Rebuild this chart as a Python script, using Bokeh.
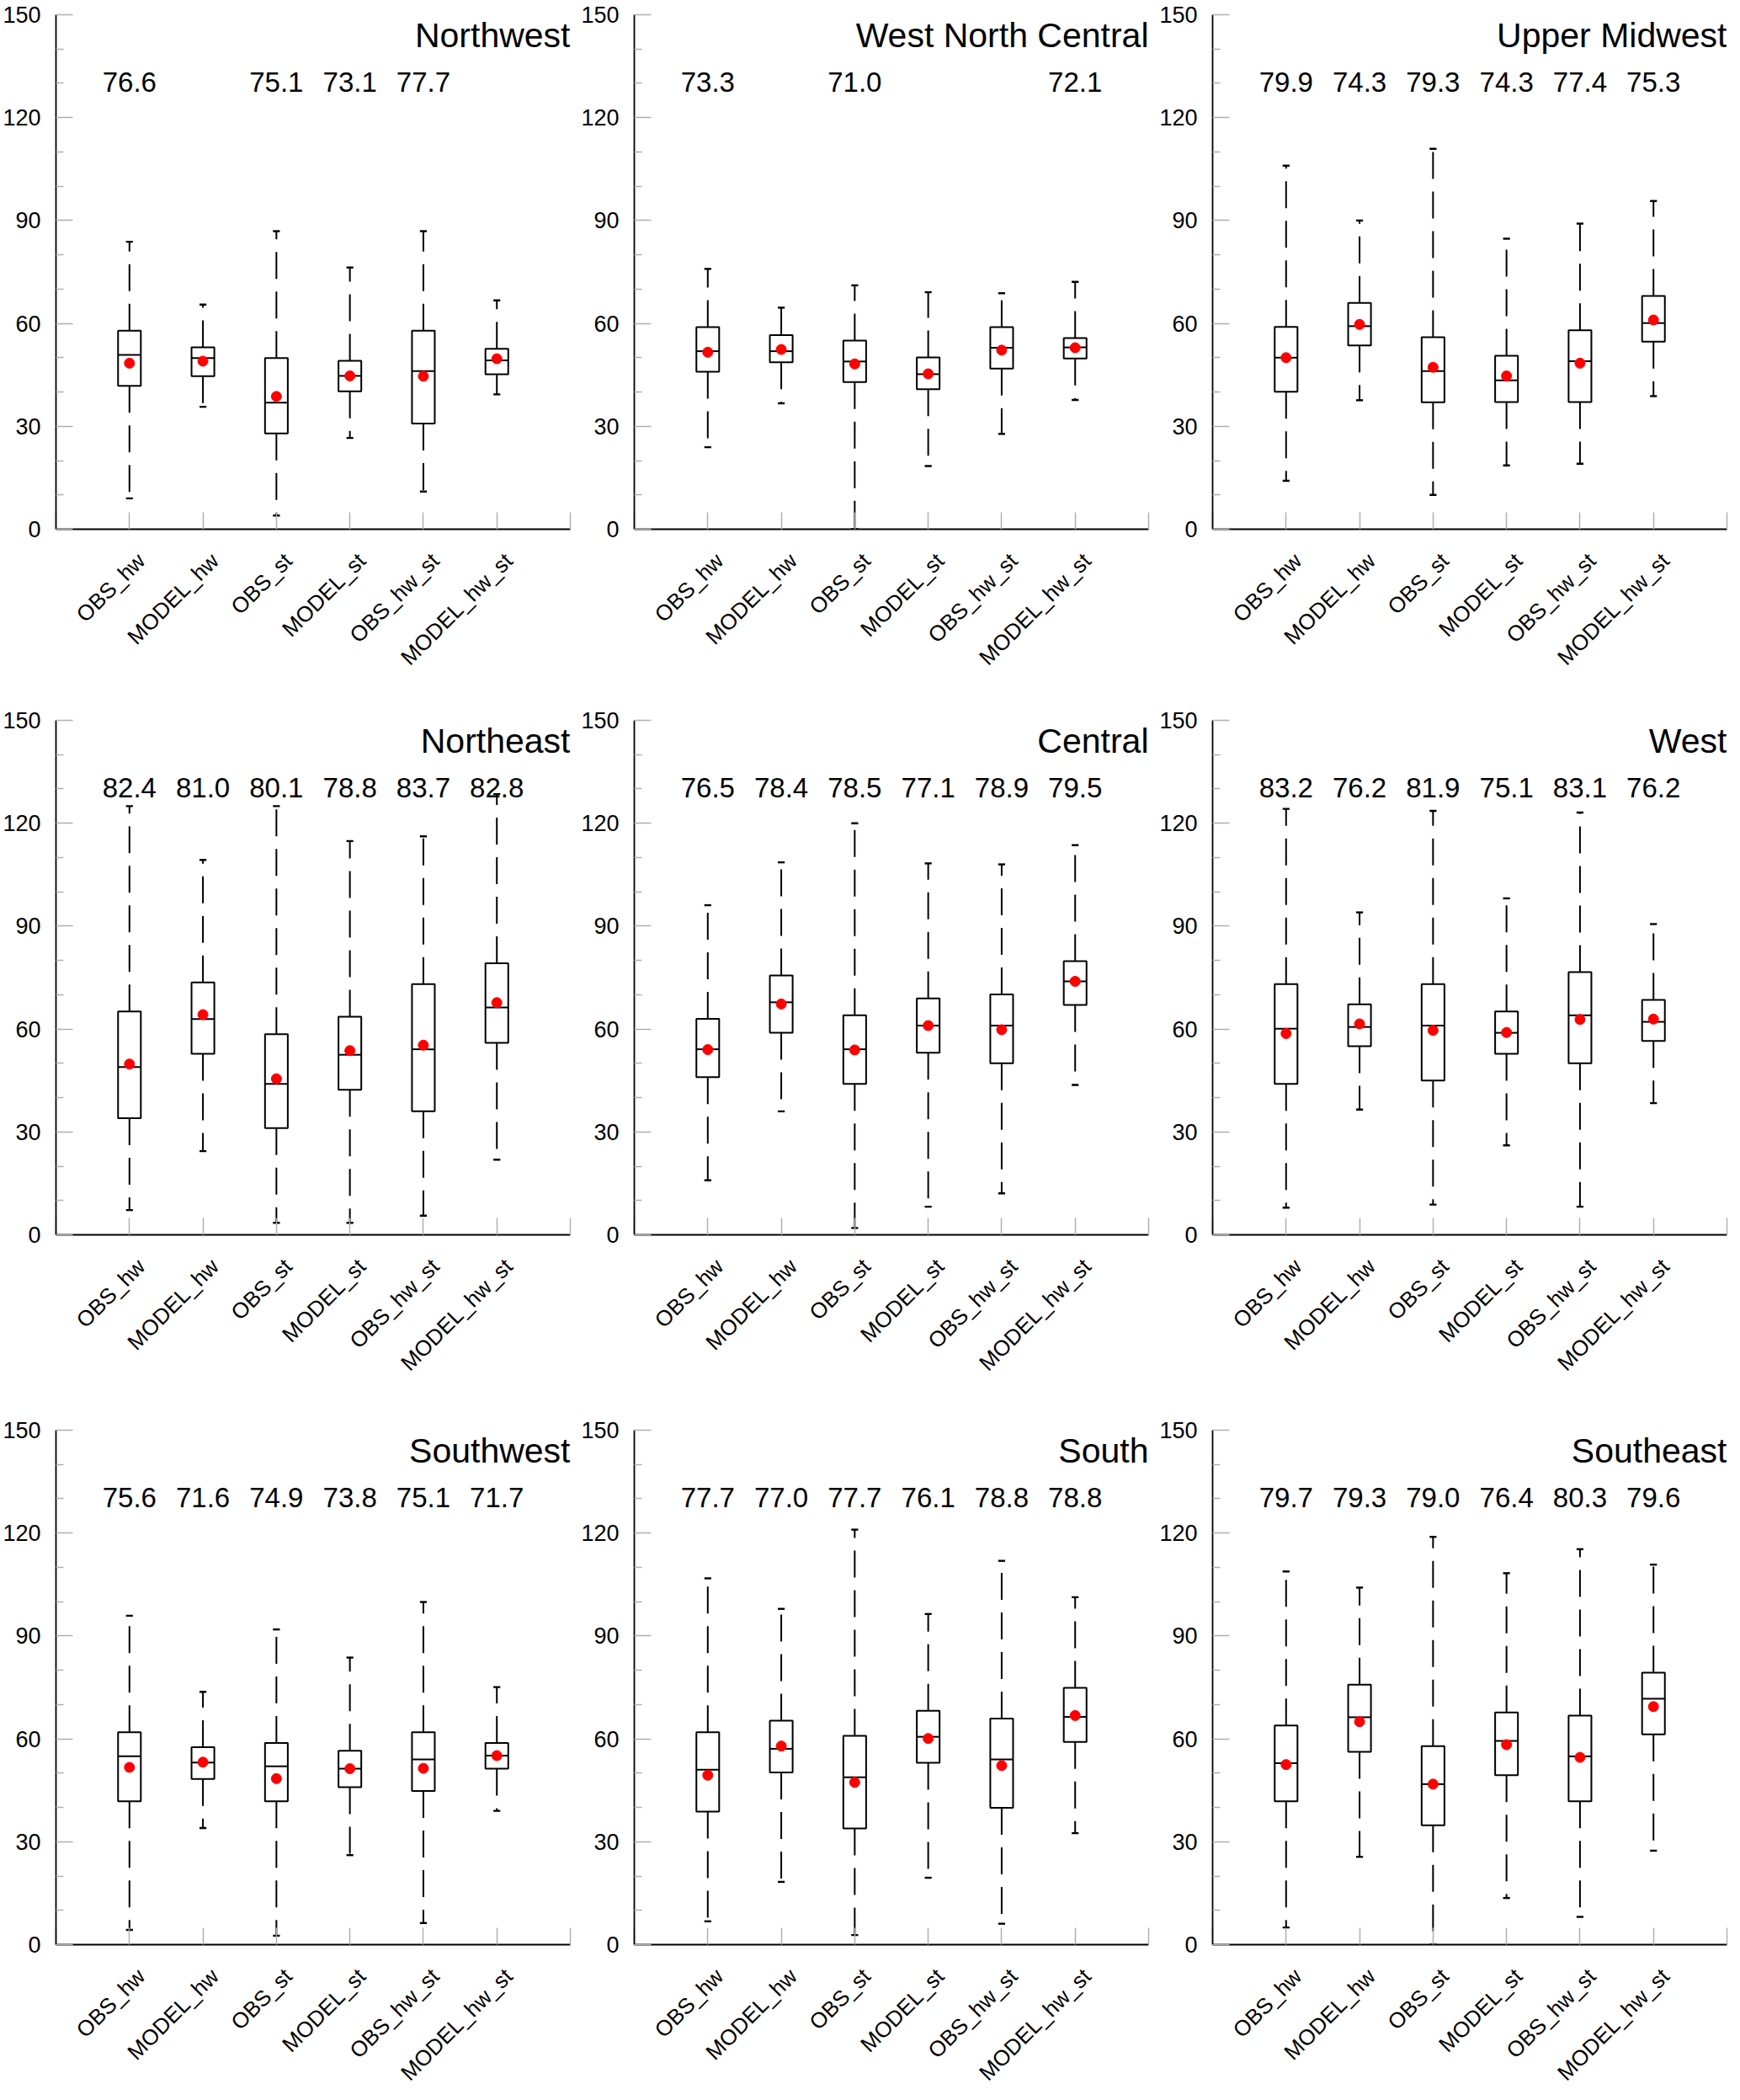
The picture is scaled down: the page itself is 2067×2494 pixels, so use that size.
from bokeh.plotting import figure
from bokeh.layouts import gridplot
from bokeh.models import Range1d, FixedTicker, LinearAxis
from bokeh.core.properties import value
from bokeh.embed import file_html
from bokeh.resources import INLINE

categories = ["OBS_hw", "MODEL_hw", "OBS_st", "MODEL_st", "OBS_hw_st", "MODEL_hw_st"]
regions = ["Northwest", "West North Central", "Upper Midwest",
           "Northeast", "Central", "West",
           "Southwest", "South", "Southeast"]

# one row per region, one value per category
whisker_low = [
    [9.0, 35.7, 4.0, 26.6, 11.0, 39.3],
    [23.9, 36.7, 0.0, 18.4, 27.8, 37.7],
    [14.1, 37.6, 10.0, 18.6, 19.1, 38.8],
    [7.2, 24.4, 3.5, 3.5, 5.6, 21.9],
    [15.9, 36.0, 2.0, 8.2, 12.1, 43.7],
    [7.9, 36.5, 8.8, 26.1, 8.2, 38.4],
    [4.3, 34.0, 2.6, 26.1, 6.3, 39.0],
    [6.8, 18.3, 2.8, 19.5, 6.1, 32.5],
    [5.0, 25.6, 0.0, 13.6, 8.1, 27.4],
]
q1 = [
    [41.8, 44.6, 27.9, 40.2, 30.8, 45.2],
    [45.9, 48.7, 42.9, 40.8, 46.8, 49.8],
    [40.1, 53.6, 37.0, 37.1, 37.1, 54.7],
    [34.0, 52.8, 31.1, 42.3, 36.0, 56.0],
    [46.0, 58.9, 44.0, 53.1, 50.0, 67.0],
    [44.0, 55.0, 45.0, 52.8, 50.0, 56.5],
    [41.8, 48.3, 41.8, 45.9, 44.8, 51.3],
    [38.8, 50.2, 33.9, 53.0, 39.9, 59.1],
    [41.8, 56.2, 34.8, 49.4, 41.8, 61.3],
]
median = [
    [50.8, 49.9, 36.9, 44.7, 46.1, 49.2],
    [51.9, 51.9, 48.9, 45.2, 52.9, 53.0],
    [50.0, 59.2, 46.1, 43.4, 49.0, 60.1],
    [48.9, 62.9, 44.0, 52.5, 54.1, 66.3],
    [54.1, 67.8, 54.1, 61.0, 61.0, 73.9],
    [60.1, 60.6, 61.0, 58.9, 64.0, 62.1],
    [54.9, 53.1, 52.0, 51.3, 54.0, 55.1],
    [51.0, 57.1, 48.8, 60.6, 54.0, 66.4],
    [52.9, 66.3, 46.8, 59.4, 54.9, 71.7],
]
q3 = [
    [57.9, 53.0, 49.9, 49.1, 57.9, 52.6],
    [58.9, 56.6, 55.0, 50.1, 58.9, 55.7],
    [59.0, 66.0, 56.0, 50.6, 58.0, 68.0],
    [65.1, 73.6, 58.5, 63.6, 73.1, 79.2],
    [63.0, 75.6, 64.0, 68.9, 70.1, 79.8],
    [73.1, 67.2, 73.1, 65.1, 76.6, 68.5],
    [61.9, 57.6, 58.8, 56.5, 61.9, 58.8],
    [61.9, 65.3, 60.9, 68.2, 65.9, 74.9],
    [63.9, 75.8, 57.9, 67.7, 66.8, 79.3],
]
whisker_high = [
    [83.8, 65.5, 86.9, 76.3, 86.9, 66.7],
    [75.9, 64.6, 71.1, 69.1, 68.8, 72.1],
    [106.0, 90.0, 110.9, 84.7, 89.1, 95.7],
    [125.0, 109.3, 125.0, 114.8, 116.2, 128.5],
    [96.1, 108.6, 120.0, 108.3, 108.0, 113.6],
    [124.2, 94.0, 123.6, 98.1, 123.1, 90.6],
    [95.9, 73.7, 91.9, 83.7, 99.9, 75.1],
    [106.8, 97.9, 121.0, 96.4, 111.9, 101.3],
    [108.8, 104.1, 118.9, 108.3, 115.3, 110.8],
]
mean = [
    [48.4, 49.0, 38.7, 44.7, 44.6, 49.7],
    [51.6, 52.4, 48.2, 45.3, 52.2, 52.9],
    [50.0, 59.7, 47.2, 44.7, 48.4, 61.0],
    [49.8, 64.2, 45.5, 53.7, 55.3, 67.7],
    [54.0, 67.3, 53.9, 61.0, 59.8, 73.9],
    [58.7, 61.5, 59.6, 59.0, 62.8, 62.9],
    [51.7, 53.2, 48.4, 51.3, 51.4, 55.1],
    [49.4, 57.9, 47.3, 60.1, 52.2, 66.8],
    [52.5, 65.0, 46.8, 58.3, 54.6, 69.4],
]
percent_labels = [
    ["76.6", None, "75.1", "73.1", "77.7", None],
    ["73.3", None, "71.0", None, None, "72.1"],
    ["79.9", "74.3", "79.3", "74.3", "77.4", "75.3"],
    ["82.4", "81.0", "80.1", "78.8", "83.7", "82.8"],
    ["76.5", "78.4", "78.5", "77.1", "78.9", "79.5"],
    ["83.2", "76.2", "81.9", "75.1", "83.1", "76.2"],
    ["75.6", "71.6", "74.9", "73.8", "75.1", "71.7"],
    ["77.7", "77.0", "77.7", "76.1", "78.8", "78.8"],
    ["79.7", "79.3", "79.0", "76.4", "80.3", "79.6"],
]
y_ticks = [0, 30, 60, 90, 120, 150]
y_minor = [10, 20, 40, 50, 70, 80, 100, 110, 130, 140]

FONT = "Liberation Sans"
TICK_GRAY = "#b0b0b0"
BOX_HALF = 0.155
CAP_HALF = 0.047
FRAME = 611
LABEL_SHIFT = 14.0 / (FRAME / 7.0)   # category labels sit a little right of their tick


def make_panel(k, top, bottom, right):
    xs = list(range(1, len(categories) + 1))
    p = figure(frame_width=FRAME, frame_height=FRAME,
               x_range=Range1d(0, 7), y_range=Range1d(0, 150),
               output_backend="svg", toolbar_location=None,
               min_border_left=66, min_border_right=right,
               min_border_top=top, min_border_bottom=bottom)
    p.grid.visible = False
    p.outline_line_color = None
    p.background_fill_color = "white"
    p.border_fill_color = "white"

    # y axis
    ya = p.yaxis[0]
    ya.ticker = FixedTicker(ticks=y_ticks, minor_ticks=y_minor)
    ya.major_tick_in = 20
    ya.major_tick_out = 0
    ya.minor_tick_in = 9
    ya.minor_tick_out = 0
    ya.major_tick_line_color = TICK_GRAY
    ya.minor_tick_line_color = TICK_GRAY
    ya.major_tick_line_width = 1.5
    ya.minor_tick_line_width = 1.5
    ya.axis_line_color = "black"
    ya.axis_line_width = 1.8
    ya.major_label_text_font = FONT
    ya.major_label_text_font_size = "27px"
    ya.major_label_text_color = "black"
    ya.major_label_standoff = 18

    # x axis: ticks and line only
    xa = p.xaxis[0]
    xa.ticker = FixedTicker(ticks=list(range(0, 8)), minor_ticks=[])
    xa.major_label_overrides = {i: "" for i in range(0, 8)}
    xa.major_label_text_font_size = "1px"
    xa.major_label_standoff = 0
    xa.major_tick_in = 20
    xa.major_tick_out = 0
    xa.major_tick_line_color = TICK_GRAY
    xa.major_tick_line_width = 1.5
    xa.axis_line_color = "black"
    xa.axis_line_width = 1.8

    # second (label-only) axis on a slightly shifted range
    p.extra_x_ranges = {"lab": Range1d(-LABEL_SHIFT, 7 - LABEL_SHIFT)}
    la = LinearAxis(x_range_name="lab")
    la.ticker = FixedTicker(ticks=xs, minor_ticks=[])
    la.major_label_overrides = {x: c for x, c in zip(xs, categories)}
    la.major_label_orientation = 0.785398
    la.axis_line_color = None
    la.major_tick_line_color = None
    la.minor_tick_line_color = None
    la.major_tick_in = 0
    la.major_tick_out = 0
    la.major_label_text_font = FONT
    la.major_label_text_font_size = "26px"
    la.major_label_text_color = "black"
    la.major_label_standoff = 33
    p.add_layout(la, "below")

    lo = whisker_low[k]
    hi = whisker_high[k]
    a = q1[k]
    b = q3[k]
    md = median[k]
    mn = mean[k]

    # whiskers (dashed), dash pattern starting at the box
    p.segment(x0=xs, y0=b, x1=xs, y1=hi, line_color="black", line_width=2.0,
              line_dash="32 15")
    p.segment(x0=xs, y0=a, x1=xs, y1=lo, line_color="black", line_width=2.0,
              line_dash="32 15")
    # caps
    p.segment(x0=[x - CAP_HALF for x in xs], y0=hi, x1=[x + CAP_HALF for x in xs], y1=hi,
              line_color="black", line_width=2.4)
    p.segment(x0=[x - CAP_HALF for x in xs], y0=lo, x1=[x + CAP_HALF for x in xs], y1=lo,
              line_color="black", line_width=2.4)
    # boxes
    p.quad(left=[x - BOX_HALF for x in xs], right=[x + BOX_HALF for x in xs],
           bottom=a, top=b, fill_color="white", line_color="black", line_width=2.0)
    # median
    p.segment(x0=[x - BOX_HALF for x in xs], y0=md, x1=[x + BOX_HALF for x in xs], y1=md,
              line_color="black", line_width=2.0)
    # mean
    p.scatter(x=xs, y=mn, size=12, color="red", line_color="red")

    # percent labels
    px = [x for x, t in zip(xs, percent_labels[k]) if t is not None]
    pt = [t for t in percent_labels[k] if t is not None]
    p.text(x=px, y=[130.3] * len(px), text=pt, text_align="center",
           text_baseline="alphabetic", text_font=value(FONT),
           text_font_size=value("33px"), text_color="black")

    # region title
    p.text(x=[7], y=[144.0], text=[regions[k]], text_align="right",
           text_baseline="alphabetic", text_font=value(FONT),
           text_font_size=value("41px"), text_color="black")
    return p


row_top = [17, 17, 17]
row_bottom = [210, 215, 176]
panels = []
for k in range(9):
    r = k // 3
    c = k % 3
    right = 10 if c < 2 else 4
    panels.append(make_panel(k, row_top[r], row_bottom[r], right))

grid = gridplot([panels[0:3], panels[3:6], panels[6:9]], toolbar_location=None)

open("out.html", "w").write(file_html(grid, INLINE))
